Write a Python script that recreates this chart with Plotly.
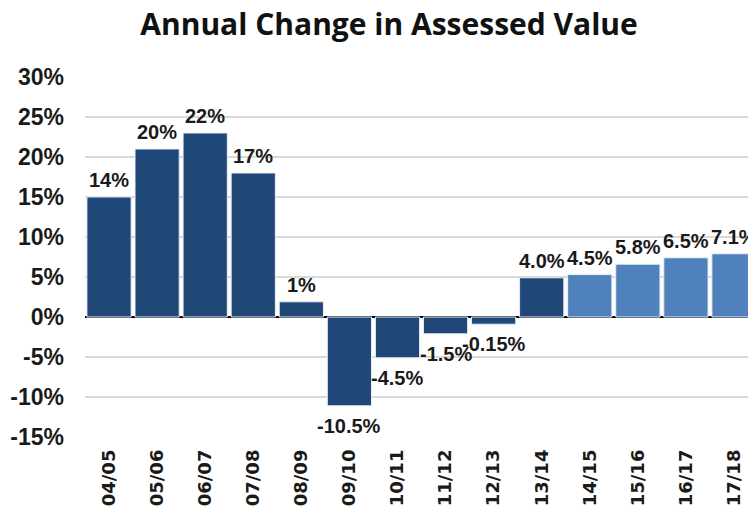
import plotly.graph_objects as go

categories = ["04/05", "05/06", "06/07", "07/08", "08/09", "09/10", "10/11",
              "11/12", "12/13", "13/14", "14/15", "15/16", "16/17", "17/18"]
values = [15.0, 21.0, 23.0, 18.0, 1.9, -11.1, -5.1, -2.1, -0.9, 4.9, 5.3, 6.6, 7.4, 7.9]
labels = ["14%", "20%", "22%", "17%", "1%", "-10.5%", "-4.5%", "-1.5%", "-0.15%",
          "4.0%", "4.5%", "5.8%", "6.5%", "7.1%"]
projected = [False] * 10 + [True] * 4
y_ticks = [-15, -10, -5, 0, 5, 10, 15, 20, 25, 30]

DARK = "#1F4778"
LIGHT = "#4F81BD"
colors = [LIGHT if p else DARK for p in projected]

fig = go.Figure()
fig.add_trace(go.Bar(
    x=categories, y=values,
    marker=dict(color=colors, line=dict(color="#E8EEF6", width=1)),
    hoverinfo="skip",
))

annotations = []
for c, v, t in zip(categories, values, labels):
    annotations.append(dict(
        x=c, y=v, text=t, showarrow=False,
        xref="x", yref="y",
        yanchor="bottom" if v >= 0 else "top",
        yshift=4 if v >= 0 else -7,
        font=dict(family="Liberation Sans, Arial", size=20, color="#1a1a1a", weight="bold"),
    ))

fig.update_layout(
    width=756, height=513,
    margin=dict(l=77, r=5, t=69, b=84, autoexpand=False),
    paper_bgcolor="white", plot_bgcolor="white",
    bargap=0.08,
    showlegend=False,
    title=dict(text="<b>Annual Change in Assessed Value</b>", x=0.504, xanchor="center",
               xref="container", y=0.967, yanchor="middle", yref="container",
               font=dict(family="Open Sans", size=30, color="#111111")),
    annotations=annotations,
    xaxis=dict(
        type="category", tickangle=-90, automargin=False,
        tickfont=dict(family="DejaVu Sans", size=18, color="#1a1a1a", weight="bold"),
        ticks="", showgrid=False, showline=False, zeroline=False,
        ticklabelstandoff=8,
    ),
    yaxis=dict(
        range=[-15, 30], tickvals=y_ticks, automargin=False,
        ticktext=[f"{v}%" for v in y_ticks],
        tickfont=dict(family="Liberation Sans, Arial", size=23, color="#1a1a1a", weight="bold"),
        showgrid=True, gridcolor="#D9D9D9", gridwidth=2,
        zeroline=True, zerolinecolor="black", zerolinewidth=2,
        showline=False, ticks="", ticklabelstandoff=20,
    ),
)

fig.write_html("out.html")
